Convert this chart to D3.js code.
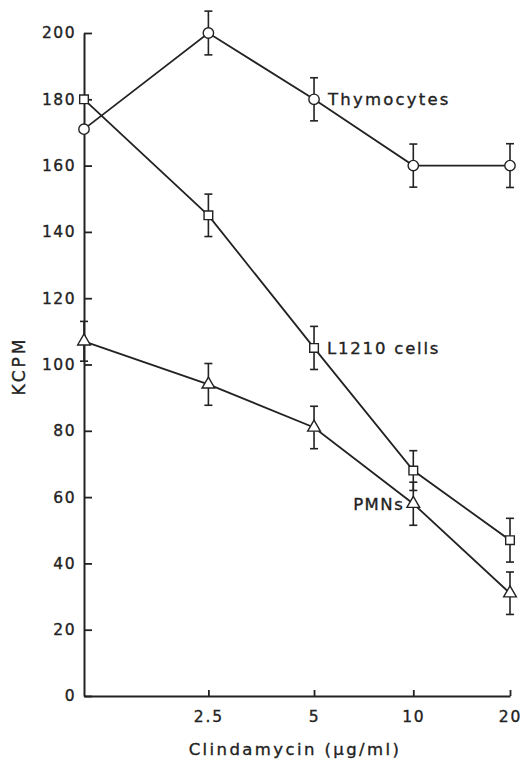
<!DOCTYPE html>
<html>
<head>
<meta charset="utf-8">
<script src="https://cdn.jsdelivr.net/npm/d3@7"></script>
<style>
  body { margin: 0; background: #fff; }
  text { font-family: "DejaVu Sans", sans-serif; fill: #222; stroke: #222; stroke-width: 0.35px; }
</style>
</head>
<body>
<div id="chart"></div>
<script>
// doses (ug/ml), first point is the control
let doses = [0, 2.5, 5, 10, 20];
let doseLabels = ["", "2.5", "5", "10", "20"];
let yTicks = [0, 20, 40, 60, 80, 100, 120, 140, 160, 180, 200];

let thymocytes = [171, 200, 180, 160, 160];
let thymocytesErr = [0, 6.6, 6.5, 6.5, 6.6];
let l1210 = [180, 145, 105, 68, 47];
let l1210Err = [0, 6.4, 6.5, 6, 6.6];
let pmns = [107, 94, 81, 58, 31];
let pmnsErr = [6, 6.3, 6.4, 6.5, 6.4];

let width = 522, height = 762;
let margin = {left: 84, right: 12, top: 33, bottom: 66};
let plotW = width - margin.left - margin.right;
let plotH = height - margin.top - margin.bottom;
let ink = "#222";

let svg = d3.select("#chart").append("svg")
	.attr("width", width)
	.attr("height", height);

// the dose axis is spaced unevenly in the original figure
let xScale = d3.scaleLinear()
	.domain(doses)
	.range([0, 0.292, 0.54, 0.773, 1].map(f => margin.left + f * plotW));

let yScale = d3.scaleLinear()
	.domain([0, 200])
	.range([margin.top + plotH, margin.top]);

// y axis
let yAxis = svg.append("g")
	.attr("transform", "translate(" + margin.left + ",0)")
	.call(d3.axisRight(yScale).tickValues(yTicks).tickSize(8).tickSizeOuter(0).tickFormat(d3.format("d")));
yAxis.select(".domain").attr("stroke", ink).attr("stroke-width", 2);
yAxis.selectAll(".tick line").attr("stroke", ink).attr("stroke-width", 1.8);
yAxis.selectAll(".tick text")
	.attr("x", -8)
	.attr("text-anchor", "end")
	.attr("font-size", 15.5)
	.attr("letter-spacing", 1.5)
	.attr("fill", ink);

// x axis
let xAxis = svg.append("g")
	.attr("transform", "translate(0," + (margin.top + plotH) + ")")
	.call(d3.axisTop(xScale).tickValues(doses.slice(1)).tickSize(6).tickSizeOuter(0)
		.tickFormat((d, i) => doseLabels[i + 1]));
xAxis.select(".domain").attr("stroke", ink).attr("stroke-width", 2);
xAxis.selectAll(".tick line").attr("stroke", ink).attr("stroke-width", 1.8);
xAxis.selectAll(".tick text")
	.attr("y", 26)
	.attr("font-size", 15.5)
	.attr("letter-spacing", 1.8)
	.attr("fill", ink);

svg.append("text")
	.attr("x", 295)
	.attr("y", 755)
	.attr("text-anchor", "middle")
	.attr("font-size", 16.5)
	.attr("letter-spacing", 2.4)
	.text("Clindamycin (\u03bcg/ml)");

svg.append("text")
	.attr("transform", "translate(25,366) rotate(-90)")
	.attr("text-anchor", "middle")
	.attr("font-size", 17)
	.attr("letter-spacing", 3)
	.text("KCPM");

let series = [
	{name: "Thymocytes", values: thymocytes, err: thymocytesErr, marker: "circle"},
	{name: "L1210 cells", values: l1210, err: l1210Err, marker: "square"},
	{name: "PMNs", values: pmns, err: pmnsErr, marker: "triangle"}
];

let line = d3.line()
	.x((d, i) => xScale(doses[i]))
	.y(d => yScale(d));

series.forEach(s => {
	let g = svg.append("g");

	g.append("path")
		.datum(s.values)
		.attr("d", line)
		.attr("fill", "none")
		.attr("stroke", ink)
		.attr("stroke-width", 1.8);

	// error bars
	s.values.forEach((v, i) => {
		if (!s.err[i]) return;
		let x = xScale(doses[i]);
		let y0 = yScale(v + s.err[i]), y1 = yScale(v - s.err[i]);
		g.append("line").attr("x1", x).attr("x2", x).attr("y1", y0).attr("y2", y1)
			.attr("stroke", ink).attr("stroke-width", 1.6);
		[y0, y1].forEach(y => {
			g.append("line").attr("x1", x - 4).attr("x2", x + 4).attr("y1", y).attr("y2", y)
				.attr("stroke", ink).attr("stroke-width", 1.6);
		});
	});

	let symbolType = s.marker == "circle" ? d3.symbolCircle
		: s.marker == "square" ? d3.symbolSquare : d3.symbolTriangle;
	let symbolSize = s.marker == "circle" ? 85 : s.marker == "square" ? 75 : 70;

	g.selectAll("path.marker")
		.data(s.values)
		.enter()
		.append("path")
		.attr("class", "marker")
		.attr("d", d3.symbol().type(symbolType).size(symbolSize))
		.attr("transform", (d, i) => "translate(" + xScale(doses[i]) + "," + yScale(d) + ")")
		.attr("fill", "#fff")
		.attr("stroke", ink)
		.attr("stroke-width", 1.4);
});

// series labels
svg.append("text")
	.attr("x", xScale(5) + 14)
	.attr("y", yScale(thymocytes[2]) + 6)
	.attr("font-size", 16.5)
	.attr("letter-spacing", 2.2)
	.text("Thymocytes");

svg.append("text")
	.attr("x", xScale(5) + 13)
	.attr("y", yScale(l1210[2]) + 6)
	.attr("font-size", 16.5)
	.attr("letter-spacing", 1.8)
	.text("L1210 cells");

svg.append("text")
	.attr("x", xScale(10) - 9)
	.attr("y", yScale(pmns[3]) + 6)
	.attr("text-anchor", "end")
	.attr("font-size", 16.5)
	.attr("letter-spacing", 1.5)
	.text("PMNs");
</script>
</body>
</html>
